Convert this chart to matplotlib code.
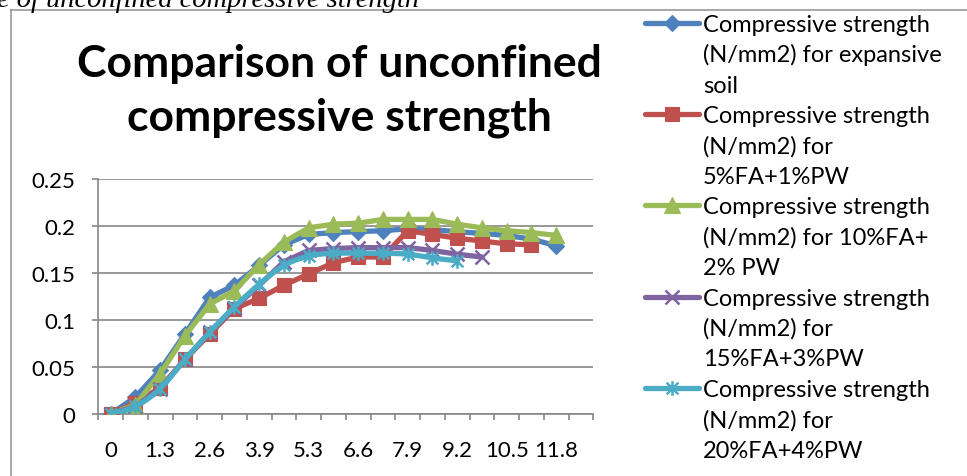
import numpy as np
import matplotlib
matplotlib.use("Agg")
import matplotlib.pyplot as plt
from matplotlib.lines import Line2D
from matplotlib.path import Path

# ---------------- data ----------------
strain_labels = ["0", "0.7", "1.3", "2", "2.6", "3.3", "3.9", "4.6", "5.3", "5.9",
                 "6.6", "7.2", "7.9", "8.6", "9.2", "9.9", "10.5", "11.2", "11.8", "12.5"]

expansive_soil = [0, 0.018, 0.047, 0.085, 0.124, 0.137, 0.158, 0.180, 0.191, 0.193,
                  0.194, 0.195, 0.197, 0.196, 0.194, 0.192, 0.190, 0.186, 0.179]
fa5_pw1 = [0, 0.012, 0.028, 0.058, 0.085, 0.112, 0.123, 0.137, 0.149, 0.161,
           0.167, 0.167, 0.195, 0.191, 0.187, 0.184, 0.181, 0.180]
fa10_pw2 = [0, 0.010, 0.043, 0.083, 0.117, 0.131, 0.159, 0.183, 0.198, 0.202,
            0.203, 0.207, 0.207, 0.207, 0.202, 0.198, 0.195, 0.193, 0.190]
fa15_pw3 = [0, 0.008, 0.027, 0.058, 0.087, 0.113, 0.137, 0.162, 0.174, 0.176,
            0.177, 0.177, 0.177, 0.174, 0.170, 0.167]
fa20_pw4 = [0, 0.008, 0.027, 0.058, 0.087, 0.114, 0.138, 0.158, 0.168, 0.171,
            0.171, 0.171, 0.170, 0.166, 0.163]

series_labels = [
    "Compressive strength\n(N/mm2) for expansive\nsoil",
    "Compressive strength\n(N/mm2) for\n5%FA+1%PW",
    "Compressive strength\n(N/mm2) for 10%FA+\n2% PW",
    "Compressive strength\n(N/mm2) for\n15%FA+3%PW",
    "Compressive strength\n(N/mm2) for\n20%FA+4%PW",
]
y_ticks = [0, 0.05, 0.1, 0.15, 0.2, 0.25]
y_tick_labels = ["0", "0.05", "0.1", "0.15", "0.2", "0.25"]
title_text = "Comparison of unconfined\ncompressive strength"
caption_text = "e of unconfined compressive strength"

# ---------------- styling ----------------
FONT = "Lato"
W, H, DPI = 967, 477, 100
fig = plt.figure(figsize=(W / DPI, H / DPI), dpi=DPI)
fig.patch.set_facecolor("white")

def fx(px):
    return px / W

def fy(py):
    return 1 - py / H

star = Path([(-1, -1), (1, 1), (-1, 1), (1, -1), (0, -1.25), (0, 1.25)],
            [Path.MOVETO, Path.LINETO, Path.MOVETO, Path.LINETO, Path.MOVETO, Path.LINETO])

styles = [
    dict(color="#4F81BD", marker="D", ms=8.5, smooth=False),
    dict(color="#C0504D", marker="s", ms=10.0, smooth=False),
    dict(color="#9BBB59", marker="^", ms=12.0, smooth=False),
    dict(color="#8064A2", marker="x", ms=10.0, smooth=False),
    dict(color="#4BACC6", marker=star, ms=10.5, smooth=True),
]
series = [expansive_soil, fa5_pw1, fa10_pw2, fa15_pw3, fa20_pw4]

def catmull(x, y, n=20):
    x = np.asarray(x, float)
    y = np.asarray(y, float)
    pts = np.column_stack([x, y])
    out = [pts[0]]
    for i in range(len(pts) - 1):
        p0 = pts[i - 1] if i > 0 else pts[i]
        p1 = pts[i]
        p2 = pts[i + 1]
        p3 = pts[i + 2] if i + 2 < len(pts) else pts[i + 1]
        t = np.linspace(0, 1, n)[1:, None]
        seg = 0.5 * ((2 * p1) + (-p0 + p2) * t + (2 * p0 - 5 * p1 + 4 * p2 - p3) * t ** 2
                     + (-p0 + 3 * p1 - 3 * p2 + p3) * t ** 3)
        out.extend(seg)
    out = np.array(out)
    return out[:, 0], out[:, 1]

ax = fig.add_axes([fx(98.3), fy(415), fx(593.3) - fx(98.3), fy(180) - fy(415)])
ax.set_facecolor("white")

LW = 3.8
def marker_mew(st):
    return 1.8 if (isinstance(st["marker"], str) and st["marker"] == "x") or st["marker"] is star else 0.8

for vals, st in zip(series, styles):
    xs = np.arange(len(vals))
    if st["smooth"]:
        sx, sy = catmull(xs, vals)
        ax.plot(sx, sy, color=st["color"], lw=LW, solid_capstyle="round", zorder=3)
    else:
        ax.plot(xs, vals, color=st["color"], lw=LW, solid_joinstyle="round",
                solid_capstyle="round", zorder=3)
    ax.plot(xs, vals, ls="none", marker=st["marker"], ms=st["ms"], color=st["color"],
            mec=st["color"], mew=marker_mew(st), zorder=3)

ncat = len(strain_labels)
ax.set_xlim(-0.5, ncat - 0.5)
ax.set_ylim(0, 0.25)
ax.set_xticks(np.arange(-0.5, ncat, 1.0))
ax.set_xticklabels([])
ax.set_xticks(np.arange(0, ncat, 2), minor=True)
ax.set_xticklabels(strain_labels[::2], minor=True)
ax.set_yticks(y_ticks)
ax.set_yticklabels(y_tick_labels)

GRID = "#868686"
ax.grid(axis="y", color=GRID, lw=1.2, zorder=0)
for s in ["top", "right"]:
    ax.spines[s].set_visible(False)
for s in ["left", "bottom"]:
    ax.spines[s].set_color(GRID)
    ax.spines[s].set_linewidth(1.2)
ax.tick_params(axis="x", which="major", length=4.5, width=1.2, color=GRID, direction="out")
ax.tick_params(axis="x", which="minor", length=0, pad=19, labelsize=16)
ax.tick_params(axis="y", length=4.5, width=1.2, color=GRID, pad=12, labelsize=16)
for lab in ax.get_xticklabels(minor=True) + ax.get_yticklabels():
    lab.set_fontfamily(FONT)
ax.set_axisbelow(True)

# title
t_lines = title_text.split("\n")
fig.text(fx(339), fy(77), t_lines[0], ha="center", va="baseline",
         fontsize=32, fontweight="bold", fontfamily=FONT)
fig.text(fx(339), fy(130), t_lines[1], ha="center", va="baseline",
         fontsize=32, fontweight="bold", fontfamily=FONT)

# caption (cut off at top)
fig.text(fx(-3), fy(7), caption_text, ha="left", va="baseline", fontsize=20.5,
         fontstyle="italic", fontfamily="Liberation Serif")

# chart frame
fig.add_artist(Line2D([fx(11), fx(11)], [fy(11), fy(480)], color="#9A9A9A", lw=1.2,
                      transform=fig.transFigure))
fig.add_artist(Line2D([fx(11), fx(970)], [fy(11), fy(11)], color="#9A9A9A", lw=1.2,
                      transform=fig.transFigure))

# manual legend (handle aligned with first text line)
LINE_SP = 30.4
for i, (lab, st) in enumerate(zip(series_labels, styles)):
    base0 = 32 + i * 3 * LINE_SP
    hy = base0 - 8
    fig.add_artist(Line2D([fx(645), fx(699)], [fy(hy), fy(hy)], color=st["color"], lw=LW,
                          solid_capstyle="round", transform=fig.transFigure))
    fig.add_artist(Line2D([fx(672)], [fy(hy)], ls="none", marker=st["marker"], ms=st["ms"],
                          color=st["color"], mec=st["color"], mew=marker_mew(st),
                          transform=fig.transFigure))
    for j, line in enumerate(lab.split("\n")):
        fig.text(fx(703), fy(base0 + j * LINE_SP), line, ha="left", va="baseline",
                 fontsize=17, fontfamily=FONT)

fig.savefig("out.png", dpi=DPI, facecolor="white")
